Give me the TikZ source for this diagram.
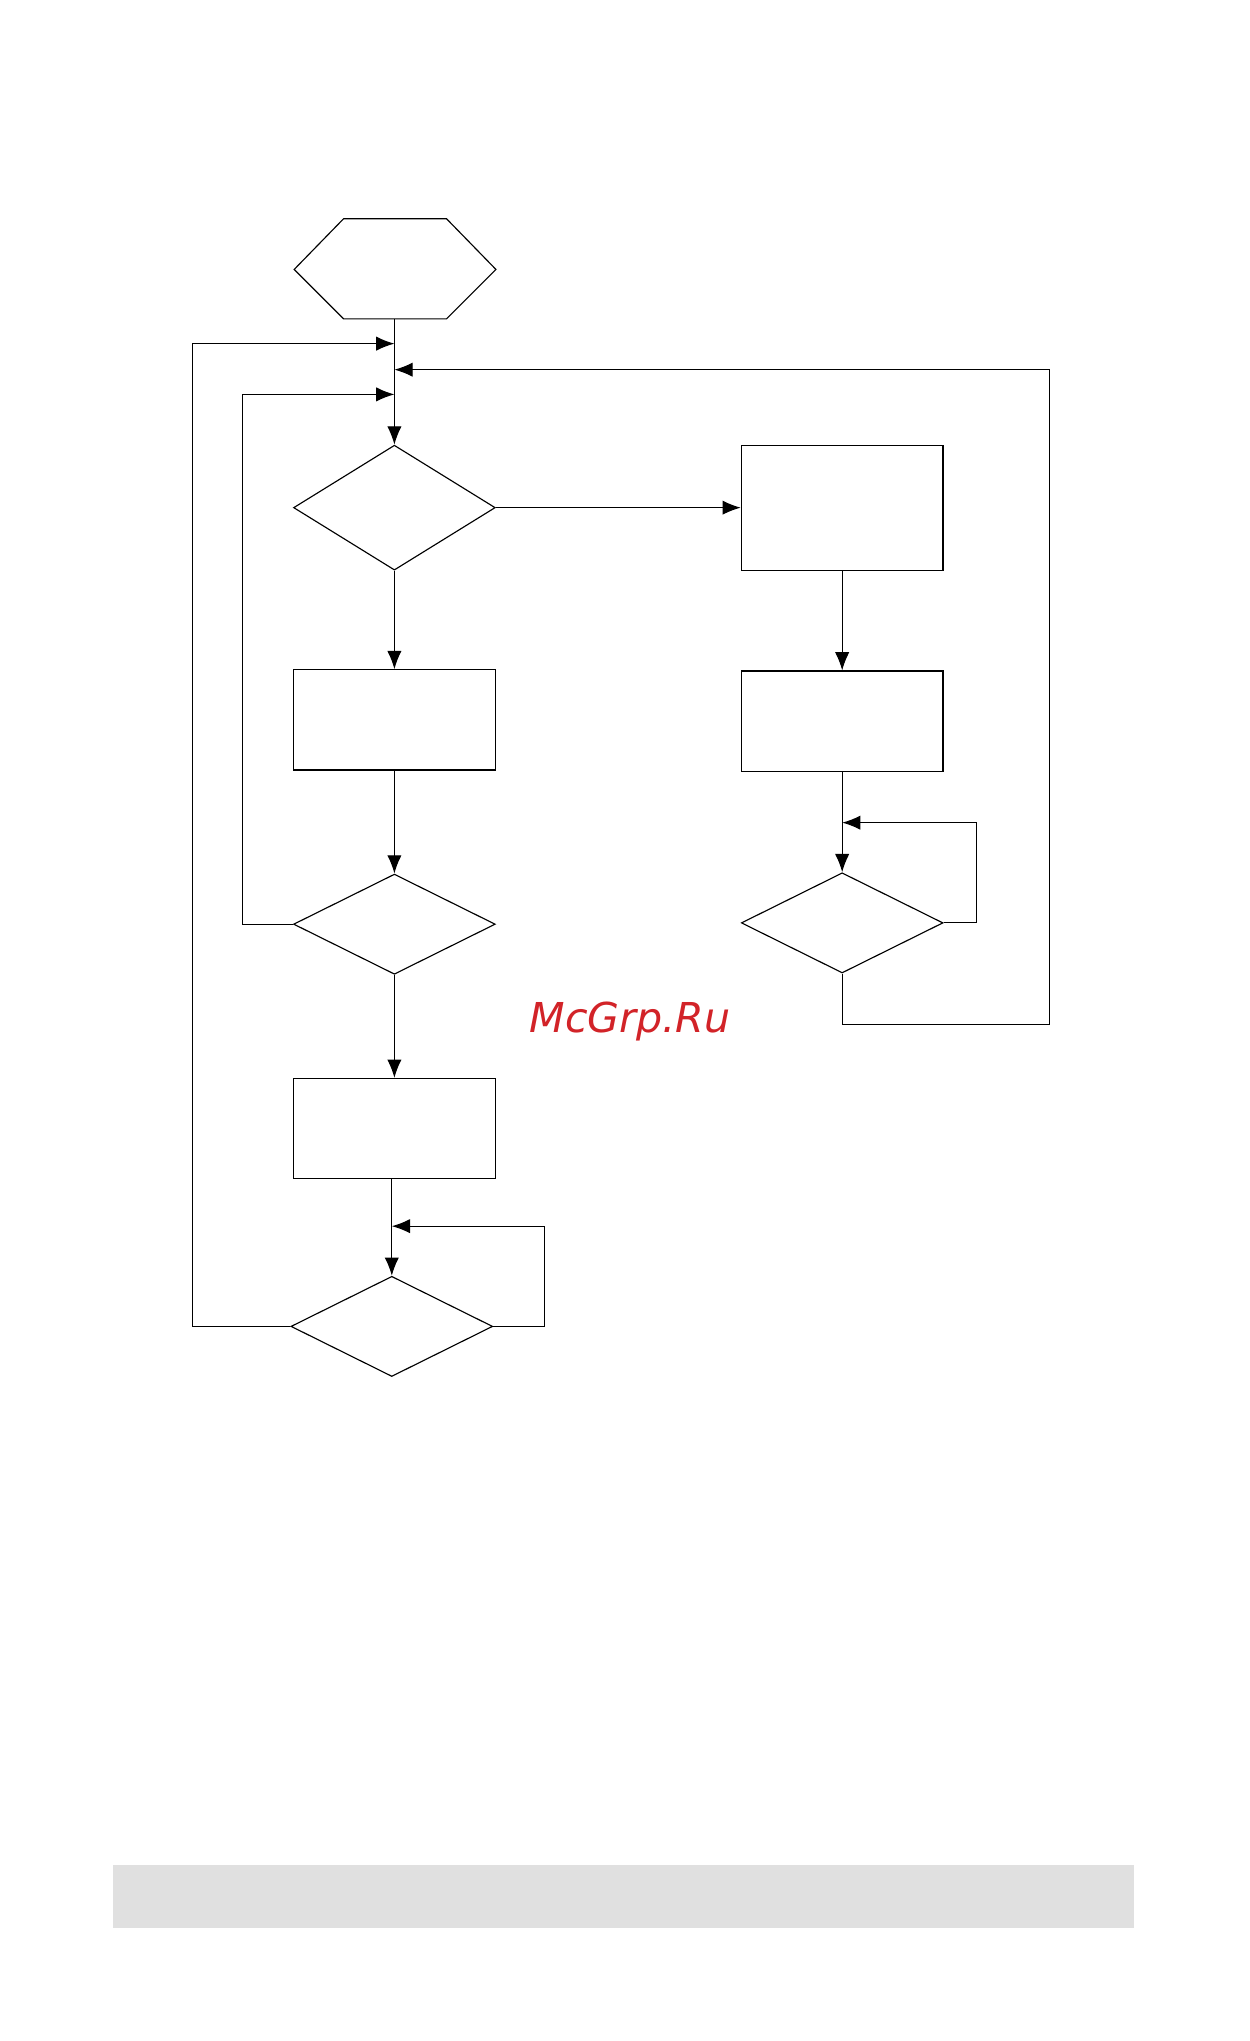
\documentclass[tikz,border=0pt]{standalone}
\usepackage{fontspec}
\usetikzlibrary{shapes.geometric,arrows.meta}
\newfontfamily\markfont{DejaVu Sans}
\definecolor{markred}{RGB}{210,35,40}
\tikzset{
  blk/.style={draw, rectangle, minimum width=3.1cm, minimum height=1.54cm, inner sep=0pt},
  dmd/.style={draw, diamond, minimum width=3.1cm, minimum height=1.54cm, inner sep=0pt},
  arr/.style={-{Latex[length=2.8mm,width=2.2mm]}},
}
\begin{document}
\begin{tikzpicture}[x=0.02cm, y=-0.02cm, line width=0.5pt]
\useasboundingbox (0,0) rectangle (960,1568);
\fill[white] (0,0) rectangle (960,1568);
% hexagon
\draw (264,168) -- (343,168) -- (381,207) -- (343,245) -- (264,245) -- (226,207) -- cycle;
\coordinate (hex) at (303,245);
% left column
\node[dmd, minimum height=1.92cm] (d1) at (303,390) {};
\node[blk] (b1) at (303,553) {};
\node[dmd] (d2) at (303,710) {};
\node[blk] (b2) at (303,867) {};
\node[dmd] (d3) at (301,1019) {};
% right column
\node[blk, minimum height=1.92cm] (b3) at (647,390) {};
\node[blk] (b4) at (647,554) {};
\node[dmd] (d4) at (647,709) {};
% junction points
\coordinate (j1) at (303,264);
\coordinate (j2) at (303,284);
\coordinate (j3) at (303,303);
\coordinate (j4) at (647,632);
\coordinate (j5) at (301,942);
\draw[arr] (hex) -- (d1.north);
\draw[arr] (d1.east) -- (b3.west);
\draw[arr] (d1.south) -- (b1.north);
\draw[arr] (b1.south) -- (d2.north);
\draw[arr] (d2.south) -- (b2.north);
\draw[arr] (b2.south -| d3.north) -- (d3.north);
\draw[arr] (b3.south) -- (b4.north);
\draw[arr] (b4.south) -- (d4.north);
% feedback lines
\draw[arr] (d3.west) -| (148,264) -- (j1);
\draw[arr] (d2.west) -| (186,303) -- (j3);
\draw[arr] (d4.south) |- (806,787) |- (j2);
\draw[arr] (d4.east) -| (750,632) -- (j4);
\draw[arr] (d3.east) -| (418,942) -- (j5);
% watermark and footer
\node[text=markred, font=\markfont\itshape\fontsize{18}{22}\selectfont] (mark) at (484,785) {McGrp.Ru};
\fill[black!12] (87,1433) rectangle (871,1481);
\end{tikzpicture}
\end{document}
